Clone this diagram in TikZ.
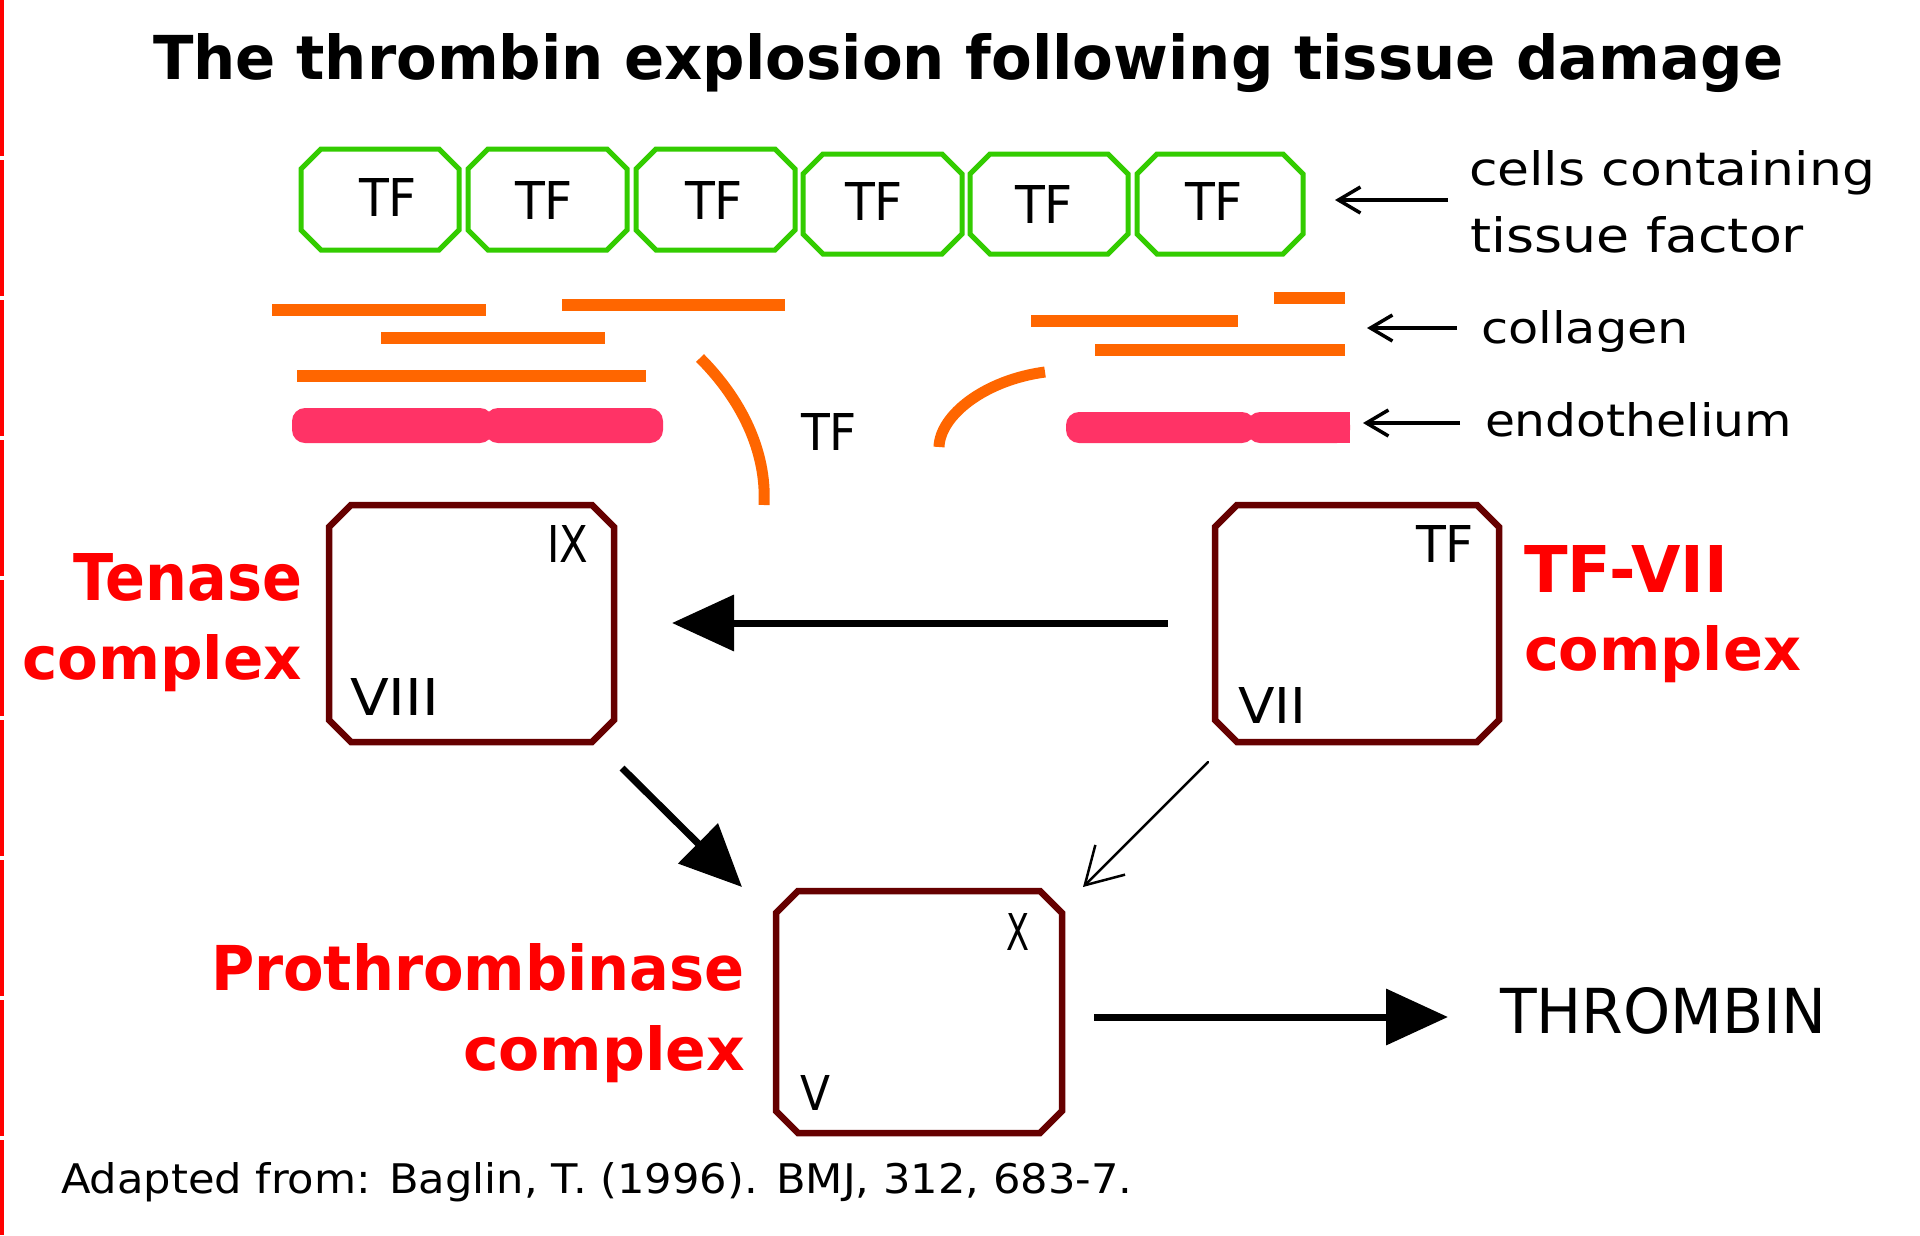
\documentclass[tikz,border=0pt]{standalone}
\usepackage{fontspec}
\setmainfont{DejaVu Sans}
\usepackage{graphicx}
\usetikzlibrary{arrows.meta}
\definecolor{cellgreen}{RGB}{51,204,0}
\definecolor{collorange}{RGB}{255,102,0}
\definecolor{endopink}{RGB}{255,51,102}
\definecolor{boxmaroon}{RGB}{102,0,0}
\definecolor{labelred}{RGB}{255,0,0}
\newcommand{\fitbox}[3]{\resizebox{#1pt}{#2pt}{#3}}
% chamfered outline: style, x1, y1, x2, y2, chamfer
\newcommand{\chambox}[6]{%
  \draw[#1] (#2+#6,#3) -- (#4-#6,#3) -- (#4,#3+#6) -- (#4,#5-#6) -- (#4-#6,#5) -- (#2+#6,#5) -- (#2,#5-#6) -- (#2,#3+#6) -- cycle;}
\begin{document}
\begin{tikzpicture}[x=1pt,y=-1pt,
  txt/.style={anchor=base west, inner sep=0pt, outer sep=0pt},
  cellline/.style={draw=cellgreen, line width=5pt, line join=miter},
  cplx/.style={draw=boxmaroon, line width=6.5pt, line join=miter},
  coll/.style={draw=collorange, line width=12pt},
  tfcurve/.style={draw=collorange, line width=11pt},
  endo/.style={fill=endopink, rounded corners=13pt},
  bigarrow/.style={line width=7pt, -{Triangle[length=62pt,width=55pt]}},
  thinarrow/.style={line width=2.5pt, line cap=round, -{Straight Barb[length=36pt,width=42pt]}},
  legarrow/.style={line width=3.5pt, -{Straight Barb[length=22pt,width=26pt]}},
  redlabel/.style={txt, text=labelred, font=\bfseries}
]
\useasboundingbox (0,0) rectangle (1920,1235);
\fill[white] (0,0) rectangle (1920,1235);

% left red edge line
\foreach \a/\b in {0/156,160/296,300/436,440/576,580/716,720/856,860/996,1000/1136,1140/1235}
  \draw[labelred, line width=4pt] (2,\a) -- (2,\b);

% title
\node[txt] (title) at (153,79) {\fitbox{1630}{46}{\bfseries The thrombin explosion following tissue damage}};

% cells containing tissue factor
\chambox{cellline}{301}{149}{459}{250}{20}
\chambox{cellline}{468}{149}{627}{250}{20}
\chambox{cellline}{636}{149}{795}{250}{20}
\chambox{cellline}{803}{154}{962}{254}{20}
\chambox{cellline}{970}{154}{1128}{254}{20}
\chambox{cellline}{1137}{154}{1303}{254}{20}
\node[txt] (tf1) at (359,216) {\fitbox{58}{38}{TF}};
\node[txt] (tf2) at (515,219) {\fitbox{58}{38}{TF}};
\node[txt] (tf3) at (685,219) {\fitbox{58}{38}{TF}};
\node[txt] (tf4) at (845,220) {\fitbox{58}{38}{TF}};
\node[txt] (tf5) at (1015,223) {\fitbox{58}{38}{TF}};
\node[txt] (tf6) at (1185,220) {\fitbox{58}{38}{TF}};

% collagen
\draw[coll] (272,310) -- (486,310);
\draw[coll] (562,305) -- (785,305);
\draw[coll] (381,338) -- (605,338);
\draw[coll] (297,376) -- (646,376);
\draw[coll] (1031,321) -- (1238,321);
\draw[coll] (1274,298) -- (1345,298);
\draw[coll] (1095,350) -- (1345,350);

% endothelium
\fill[endo] (292,408) rectangle (493,443);
\fill[endo] (485,408) rectangle (663,443);
\fill[endo] (1066,412) rectangle (1255,443);
\fill[endo] (1247,412) rectangle (1350,443);
\fill[endopink] (1310,412) rectangle (1350,443);

% exposed TF curves
\draw[tfcurve] (700,358) .. controls (740,398) and (767,450) .. (764,505);
\draw[tfcurve] (1045,372) .. controls (985,380) and (940,415) .. (939,447);
\node[txt] (tfmid) at (801,450) {\fitbox{56}{37}{TF}};

% legend
\coordinate (l1s) at (1448,200); \coordinate (l1e) at (1335,200);
\coordinate (l2s) at (1457,328); \coordinate (l2e) at (1367,328);
\coordinate (l3s) at (1460,423); \coordinate (l3e) at (1363,423);
\draw[legarrow] (l1s) -- (l1e);
\draw[legarrow] (l2s) -- (l2e);
\draw[legarrow] (l3s) -- (l3e);
\node[txt] (cells1) at (1469,185) {\fitbox{406}{35}{cells containing}};
\node[txt] (cells2) at (1470,252) {\fitbox{334}{36}{tissue factor}};
\node[txt] (collagen) at (1481,343) {\fitbox{208}{33}{collagen}};
\node[txt] (endoth) at (1485,436) {\fitbox{307}{34}{endothelium}};

% complexes
\chambox{cplx}{329}{505}{614}{742}{22}
\chambox{cplx}{1215}{505}{1499}{742}{22}
\chambox{cplx}{776}{891}{1062}{1133}{22}

\node[txt] (ix) at (547,562) {\fitbox{41}{37}{IX}};
\node[txt] (viii) at (350,715) {\fitbox{89}{37}{VIII}};
\node[txt] (tfbox) at (1416,562) {\fitbox{58}{37}{TF}};
\node[txt] (vii) at (1238,723) {\fitbox{68}{36}{VII}};
\node[txt] (xf) at (1006,950) {\fitbox{23}{37}{X}};
\node[txt] (vf) at (800,1110) {\fitbox{30}{35}{V}};

\node[redlabel] (tenase) at (73,600) {\fitbox{229}{47}{Tenase}};
\node[redlabel] (complexl) at (22,679) {\fitbox{280}{45}{complex}};
\node[redlabel] (tfvii) at (1524,592) {\fitbox{204}{47}{TF-VII}};
\node[redlabel] (complexr) at (1524,670) {\fitbox{277}{45}{complex}};
\node[redlabel] (proth) at (211,990) {\fitbox{534}{47}{Prothrombinase}};
\node[redlabel] (complexp) at (463,1070) {\fitbox{282}{45}{complex}};

% arrows
\coordinate (a1s) at (1168,623); \coordinate (a1e) at (672,623);
\coordinate (a2s) at (622,768); \coordinate (a2e) at (742,887);
\coordinate (a3s) at (1208,762); \coordinate (a3e) at (1083,887);
\coordinate (a4s) at (1094,1017); \coordinate (a4e) at (1448,1017);
\draw[bigarrow] (a1s) -- (a1e);
\draw[bigarrow] (a2s) -- (a2e);
\draw[thinarrow] (a3s) -- (a3e);
\draw[bigarrow] (a4s) -- (a4e);

\node[txt] (thrombin) at (1500,1033) {\fitbox{326}{46}{THROMBIN}};

\node[txt] (cite) at (61,1193) {\fitbox{1071}{31}{Adapted from: Baglin, T. (1996). BMJ, 312, 683-7.}};
\end{tikzpicture}
\end{document}
